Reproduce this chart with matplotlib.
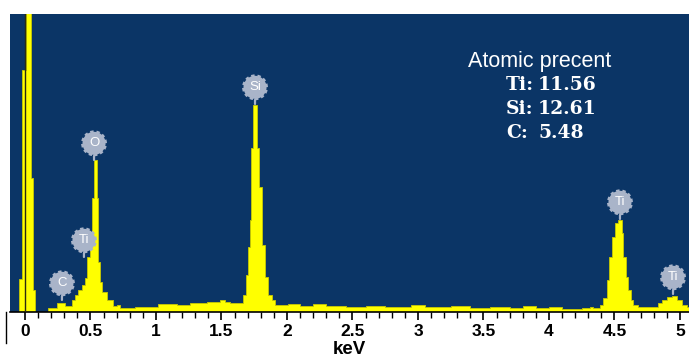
import matplotlib
matplotlib.use("Agg")
import matplotlib.pyplot as plt

# ---- data (left bin edges in keV, counts in arbitrary units) ----
energy_keV = [-0.115, -0.046, -0.023, 0.008, 0.046, 0.061, 0.076, 0.176, 0.244, 0.305,
              0.359, 0.382, 0.405, 0.435, 0.458, 0.473, 0.496, 0.511, 0.523, 0.546,
              0.557, 0.573, 0.588, 0.626, 0.672, 0.702, 0.725, 0.840, 1.015, 1.160,
              1.260, 1.390, 1.489, 1.527, 1.565, 1.664, 1.687, 1.702, 1.718, 1.729,
              1.740, 1.771, 1.786, 1.809, 1.832, 1.855, 1.885, 1.908, 2.008, 2.10,
              2.20, 2.30, 2.45, 2.60, 2.75, 2.95, 3.05, 3.25, 3.40, 3.55,
              3.70, 3.80, 3.90, 4.00, 4.10, 4.25, 4.313, 4.336, 4.389, 4.412,
              4.443, 4.458, 4.481, 4.504, 4.527, 4.557, 4.565, 4.588, 4.603, 4.626,
              4.641, 4.679, 4.832, 4.863, 4.901, 4.939, 4.977, 5.015, 5.053, 5.10]
counts = [0, 33, 242, 420, 134, 22, 0, 4, 9, 6,
          12, 17, 22, 27, 34, 55, 80, 114, 152, 114,
          50, 30, 20, 12, 6, 7, 4, 5, 8, 7,
          9, 10, 12, 10, 9, 17, 37, 65, 92, 164,
          207, 164, 125, 67, 35, 17, 12, 7, 8, 6,
          8, 6, 5, 6, 5, 7, 5, 6, 4, 5,
          4, 6, 4, 5, 3, 4, 5, 4, 7, 14,
          32, 55, 75, 89, 92, 79, 55, 35, 22, 12,
          7, 5, 9, 12, 15, 16, 12, 7, 5, 5]

peak_names = ["C", "Ti", "O", "Si", "Ti", "Ti"]
peak_energy = [0.282, 0.45, 0.527, 1.756, 4.542, 4.947]
peak_height = [12, 55, 152, 208, 93, 18]

x_ticks = [0, 0.5, 1, 1.5, 2, 2.5, 3, 3.5, 4, 4.5, 5]
x_tick_labels = ["0", "0.5", "1", "1.5", "2", "2.5", "3", "3.5", "4", "4.5", "5"]

title_text = "Atomic precent"
elements = ["Ti:", "Si:", "C:"]
percents = ["11.56", "12.61", "5.48"]

# ---- figure ----
W, H = 689, 363
fig = plt.figure(figsize=(W / 100, H / 100), dpi=100)
ax = fig.add_axes([10 / W, 1 - 312 / H, 1 - 10 / W, (312 - 14) / H])
navy = "#0b3566"
ax.set_facecolor(navy)

ax.fill_between(energy_keV, counts, step="post", color="#ffff00",
                edgecolor="#c9c900", linewidth=0.6, zorder=2)
ax.axvline(0, color="#2b2b10", lw=1.0, zorder=3)

ax.set_xlim(-0.1145, 5.069)
ax.set_ylim(0, 298)

for s in ["top", "right", "left"]:
    ax.spines[s].set_visible(False)
ax.spines["bottom"].set_color("black")
ax.spines["bottom"].set_linewidth(1.2)
ax.set_yticks([])
ax.set_xticks(x_ticks)
ax.set_xticklabels(x_tick_labels, fontfamily="Liberation Sans", fontsize=12.5,
                   fontweight="semibold")
ax.set_xticks([i / 10 for i in range(0, 51)], minor=True)
ax.tick_params(axis="x", which="major", length=6, width=1.2, direction="out", pad=3, color="black")
ax.tick_params(axis="x", which="minor", length=4, width=1.0, direction="out", color="black")
ax.set_xlabel("keV", fontfamily="Liberation Sans", fontsize=13.5, fontweight="bold",
              labelpad=1)

# left vertical line below axis
ax.plot([-0.006, -0.006], [0, -0.105], transform=ax.transAxes, color="black",
        lw=1.0, clip_on=False)

# peak labels
label_col = "#a9b4c9"
for name, e, h in zip(peak_names, peak_energy, peak_height):
    ax.annotate(name, xy=(e, h), xytext=(0, 12), textcoords="offset points",
                ha="center", va="center", color="white", fontsize=9.5,
                fontfamily="Liberation Sans",
                bbox=dict(boxstyle="circle,pad=0.42", fc=label_col, ec=label_col,
                          lw=2.0, ls=(0, (1.2, 1.0))),
                arrowprops=dict(arrowstyle="-", color=label_col, lw=1.6,
                                shrinkA=0, shrinkB=0),
                zorder=5)

# composition text
fig.text(540 / W, 1 - 61 / H, title_text, color="white", ha="center", va="center",
         fontfamily="Liberation Sans", fontsize=15.5)
for i, (el, pc) in enumerate(zip(elements, percents)):
    y = 1 - (85 + 24 * i) / H
    fig.text(506 / W, y, el, color="white", ha="left", va="center",
             fontfamily="DejaVu Serif", fontweight="bold", fontsize=13.5)
    fig.text(538 / W, y, pc, color="white", ha="left", va="center",
             fontfamily="DejaVu Serif", fontweight="bold", fontsize=13.5)

fig.savefig("out.png", dpi=100, facecolor="white")
